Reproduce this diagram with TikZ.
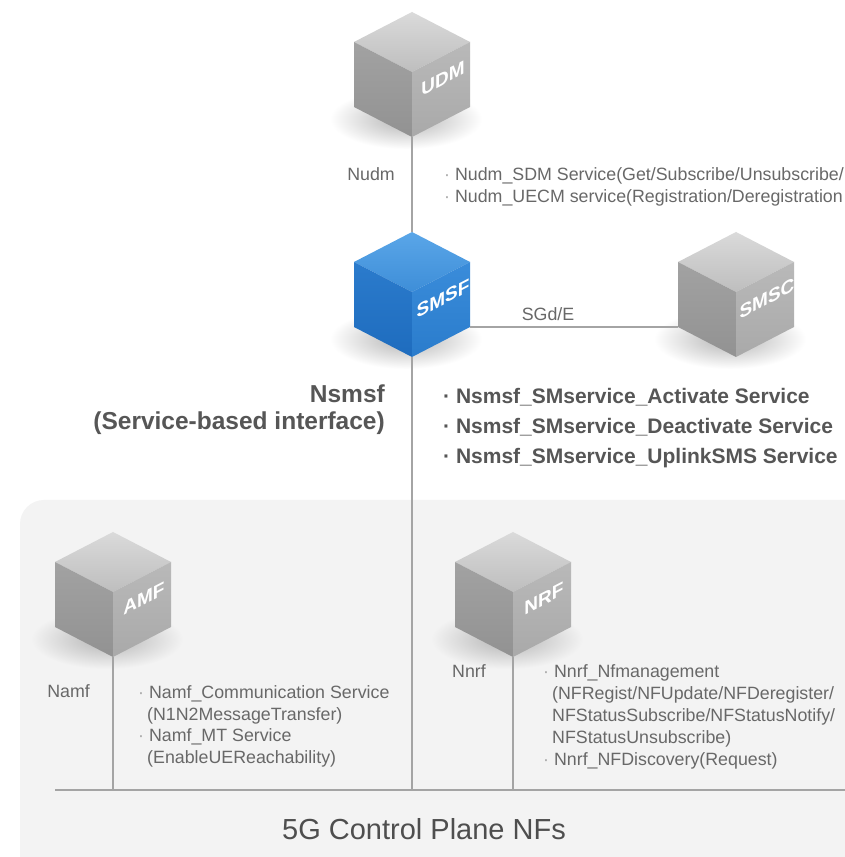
\documentclass[tikz,border=0pt]{standalone}
\usepackage{fontspec}
\setmainfont{Liberation Sans}

% palette
\definecolor{panelgray}{HTML}{F3F3F3}
\definecolor{linegray}{HTML}{A4A4A4}
\definecolor{txtgray}{HTML}{686868}
\definecolor{boldgray}{HTML}{565656}
\definecolor{titlegray}{HTML}{4E4E4E}
\definecolor{dotgray}{HTML}{A8A8A8}
% grey cube faces
\definecolor{gtopA}{HTML}{DADADA}
\definecolor{gtopB}{HTML}{BEBEBE}
\definecolor{gleftA}{HTML}{A2A2A2}
\definecolor{gleftB}{HTML}{929292}
\definecolor{grightA}{HTML}{B9B9B9}
\definecolor{grightB}{HTML}{A9A9A9}
% blue cube faces
\definecolor{btopA}{HTML}{5AA6E8}
\definecolor{btopB}{HTML}{3E8ED8}
\definecolor{bleftA}{HTML}{2B7BCC}
\definecolor{bleftB}{HTML}{1E6CBE}
\definecolor{brightA}{HTML}{3A8CDA}
\definecolor{brightB}{HTML}{2A7CCC}

% cube geometry: half width, half height of the top face, edge height
\newcommand{\cubea}{58}
\newcommand{\cubeb}{30}
\newcommand{\cubeh}{65}

\newcommand{\itemdot}{{\color{dotgray}\textperiodcentered}\ }
\newcommand{\bolddot}{{\color{boldgray}\textperiodcentered}\ }

% #1 name, #2 x of front edge, #3 y of top vertex, #4 palette (g/b), #5 label, #6 colour behind
\newcommand{\nfcube}[6]{%
  \begin{scope}[shift={(#2,#3)}]
    \coordinate (#1-top) at (0,0);
    \coordinate (#1-l) at (-\cubea,-\cubeb);
    \coordinate (#1-r) at (\cubea,-\cubeb);
    \coordinate (#1-f) at (0,-2*\cubeb);
    \coordinate (#1-lb) at (-\cubea,-\cubeb-\cubeh);
    \coordinate (#1-rb) at (\cubea,-\cubeb-\cubeh);
    \coordinate (#1-bot) at (0,-2*\cubeb-\cubeh);
    \shade[inner color=black!30, outer color=#6] (-6,-2*\cubeb-\cubeh+18) ellipse (76 and 30);
    \shade[#4top] (#1-top) -- (#1-r) -- (#1-f) -- (#1-l) -- cycle;
    \shade[#4left] (#1-l) -- (#1-f) -- (#1-bot) -- (#1-lb) -- cycle;
    \shade[#4right] (#1-f) -- (#1-r) -- (#1-rb) -- (#1-bot) -- cycle;
    \node[cubelabel] (#1) at ({\cubea/2+2},{-1.5*\cubeb-\cubeh/2+11}) {#5};
  \end{scope}}

\tikzset{
  gtop/.style={top color=gtopA, bottom color=gtopB},
  gleft/.style={top color=gleftA, bottom color=gleftB},
  gright/.style={top color=grightA, bottom color=grightB},
  btop/.style={top color=btopA, bottom color=btopB},
  bleft/.style={top color=bleftA, bottom color=bleftB},
  bright/.style={top color=brightA, bottom color=brightB},
  cubelabel/.style={text=white, inner sep=0, yslant=0.517,
    font=\bfseries\fontsize{19}{19}\selectfont},
  link/.style={draw=linegray, line width=1.5pt},
  bus/.style={draw=linegray, line width=2.4pt},
  svc/.style={text=txtgray, inner sep=0, anchor=base west,
    font=\fontsize{17.8}{21}\selectfont},
  bsvc/.style={text=boldgray, inner sep=0, anchor=base west,
    font=\bfseries\fontsize{21}{26}\selectfont},
  bigbsvc/.style={text=boldgray, inner sep=0, anchor=base east,
    font=\bfseries\fontsize{24.5}{28}\selectfont},
  plane/.style={text=titlegray, inner sep=0, anchor=base,
    font=\fontsize{29}{32}\selectfont},
}

\begin{document}
\begin{tikzpicture}[x=1pt,y=1pt]
\useasboundingbox (0,0) rectangle (844,857);
\fill[white] (0,0) rectangle (844,857);

% shaded area holding the control plane functions
\fill[panelgray, rounded corners=24] (20,357) rectangle (880,-30);

% network functions
\nfcube{udm}{412}{845}{g}{UDM}{white}
\nfcube{smsf}{412}{625}{b}{SMSF}{white}
\nfcube{smsc}{736}{625}{g}{SMSC}{white}
\nfcube{amf}{113}{325}{g}{AMF}{panelgray}
\nfcube{nrf}{513}{325}{g}{NRF}{panelgray}

% service bus and interfaces
\coordinate (bus-w) at (55,67);
\coordinate (bus-e) at (850,67);
\draw[bus] (bus-w) -- (bus-e);
\draw[link] (udm-bot) -- (smsf-top);
\draw[link] (smsf-bot) -- (smsf-bot |- bus-w);
\draw[link] (smsf-rb) -- (smsc-lb);
\draw[link] (amf-bot) -- (amf-bot |- bus-w);
\draw[link] (nrf-bot) -- (nrf-bot |- bus-w);

% UDM services
\node[svc, anchor=base east] (nudm) at (395,676) {Nudm};
\node[svc] (nudm-sdm) at (444,676) {\itemdot Nudm\_SDM Service(Get/Subscribe/Unsubscribe/};
\node[svc] (nudm-uecm) at (444,654) {\itemdot Nudm\_UECM service(Registration/Deregistration};

% SMSC interface
\node[svc, anchor=base] (sgd) at (548,536) {SGd/E};

% SMSF services
\node[bigbsvc] (nsmsf) at (385,454) {Nsmsf};
\node[bigbsvc] (nsmsf-sbi) at (385,427) {(Service-based interface)};
\node[bsvc] (sms-act) at (443,453.5) {\bolddot Nsmsf\_SMservice\_Activate Service};
\node[bsvc] (sms-deact) at (443,423.5) {\bolddot Nsmsf\_SMservice\_Deactivate Service};
\node[bsvc] (sms-up) at (443,393.5) {\bolddot Nsmsf\_SMservice\_UplinkSMS Service};

% AMF services
\node[svc, anchor=base east] (namf) at (90,159) {Namf};
\node[svc] (namf-comm) at (138,158) {\itemdot Namf\_Communication Service};
\node[svc] (namf-n1n2) at (147,136.5) {(N1N2MessageTransfer)};
\node[svc] (namf-mt) at (138,115) {\itemdot Namf\_MT Service};
\node[svc] (namf-reach) at (147,93.5) {(EnableUEReachability)};

% NRF services
\node[svc] (nnrf) at (452,179) {Nnrf};
\node[svc] (nnrf-mgmt) at (543,179) {\itemdot Nnrf\_Nfmanagement};
\node[svc] (nnrf-ops1) at (552,157) {(NFRegist/NFUpdate/NFDeregister/};
\node[svc] (nnrf-ops2) at (552,135) {NFStatusSubscribe/NFStatusNotify/};
\node[svc] (nnrf-ops3) at (552,113) {NFStatusUnsubscribe)};
\node[svc] (nnrf-disc) at (543,91) {\itemdot Nnrf\_NFDiscovery(Request)};

% caption of the shaded area
\node[plane] (plane) at (424,17) {5G Control Plane NFs};
\end{tikzpicture}
\end{document}
